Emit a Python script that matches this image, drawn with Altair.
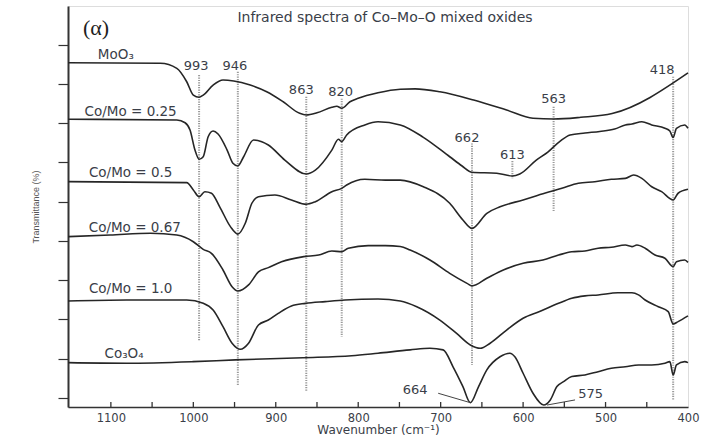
import altair as alt
import pandas as pd

# ---- spectra: wavenumber (cm^-1) and transmittance (offset, arbitrary units) ----
moo3_wn = [1152, 1040, 1020, 1008, 1000, 993, 988, 976, 964, 951, 931, 911, 891, 871, 863,
           850, 832, 826, 820, 810, 800, 776, 749, 731, 701, 660, 620, 588, 563, 530, 492, 400]
moo3_t = [17.08, 17.05, 16.79, 16.11, 15.43, 15.32, 15.43, 15.94, 16.20, 16.15, 15.94, 15.60,
          15.09, 14.50, 14.42, 14.53, 14.81, 14.86, 14.76, 15.09, 15.27, 15.55, 15.73, 15.75,
          15.60, 15.18, 14.67, 14.25, 14.21, 14.30, 14.49, 16.56]

co025_wn = [1152, 1020, 1010, 1004, 998, 993, 988, 982, 976, 970, 959, 952, 946, 939, 927, 917,
            909, 889, 863, 852, 832, 824, 820, 814, 792, 776, 749, 721, 689, 674, 662, 632, 613,
            604, 584, 570, 555, 543, 525, 507, 489, 476, 468, 456, 444, 428, 422, 418, 414, 404, 400]
co025_t = [14.20, 14.16, 14.02, 13.65, 12.63, 12.16, 12.29, 13.31, 13.60, 13.45, 12.63, 11.96,
           11.82, 12.29, 13.14, 13.06, 12.89, 12.12, 11.41, 11.61, 12.63, 13.18, 13.06, 13.40,
           13.91, 14.07, 13.91, 13.28, 12.29, 11.82, 11.50, 11.45, 11.31, 11.41, 12.12, 12.53,
           13.09, 13.40, 13.50, 13.58, 13.70, 13.91, 13.96, 14.07, 13.91, 13.74, 13.60, 13.27,
           13.74, 13.91, 13.74]

co05_wn = [1152, 1008, 1000, 993, 986, 978, 968, 955, 946, 937, 929, 921, 901, 881, 863, 852,
           832, 820, 814, 792, 767, 749, 721, 689, 673, 662, 644, 628, 600, 573, 553, 533, 513,
           493, 476, 466, 456, 444, 432, 418, 412, 400]
co05_t = [11.02, 10.97, 10.60, 10.25, 10.51, 10.43, 9.74, 8.73, 8.35, 8.90, 9.92, 10.25, 10.34,
          10.09, 9.87, 10.00, 10.51, 10.68, 10.85, 11.14, 11.10, 11.10, 10.76, 9.92, 9.07, 8.64,
          9.41, 9.74, 10.09, 10.44, 10.68, 10.94, 11.02, 11.14, 11.19, 11.36, 11.19, 10.76,
          10.51, 10.09, 10.43, 10.63]

co067_wn = [1152, 1101, 1052, 1020, 1000, 988, 978, 964, 953, 946, 933, 921, 909, 893, 866, 848,
            832, 820, 812, 788, 767, 749, 737, 713, 689, 668, 662, 644, 624, 600, 576, 557, 541,
            525, 509, 493, 476, 468, 462, 452, 440, 428, 418, 414, 404, 400]
co067_t = [8.22, 8.30, 8.39, 8.30, 7.96, 7.57, 7.37, 6.52, 5.67, 5.45, 5.76, 6.42, 6.64, 6.94,
           7.20, 7.28, 7.49, 7.45, 7.63, 7.76, 7.76, 7.72, 7.54, 7.03, 6.35, 5.84, 5.71, 6.10,
           6.52, 6.86, 7.03, 7.28, 7.45, 7.49, 7.63, 7.68, 7.79, 7.71, 7.79, 7.63, 7.28, 7.12,
           6.69, 6.94, 7.03, 6.91]

co10_wn = [1152, 1081, 1008, 988, 976, 964, 953, 943, 933, 921, 909, 897, 881, 864, 840, 816,
           776, 749, 729, 701, 681, 664, 652, 640, 620, 600, 580, 557, 541, 525, 509, 485, 468,
           460, 452, 436, 424, 418, 412, 400]
co10_t = [4.94, 4.99, 4.99, 4.82, 4.48, 3.63, 2.79, 2.48, 2.79, 3.72, 3.97, 4.31, 4.69, 4.82,
          4.91, 4.99, 5.04, 4.94, 4.65, 3.97, 3.30, 2.70, 2.53, 2.79, 3.46, 4.06, 4.40, 4.82,
          5.08, 5.20, 5.25, 5.36, 5.36, 5.25, 4.99, 4.65, 4.40, 3.77, 3.89, 4.18]

co3o4_wn = [1152, 1081, 1000, 949, 867, 808, 776, 737, 713, 697, 685, 673, 664, 654, 644, 628,
            616, 610, 600, 588, 575, 567, 559, 551, 541, 525, 509, 493, 476, 460, 444, 428, 422,
            418, 414, 404, 400]
co3o4_t = [1.80, 1.77, 1.85, 1.94, 2.05, 2.15, 2.28, 2.45, 2.53, 2.45, 1.59, 0.58, -0.24, 0.58,
           1.43, 2.10, 2.28, 2.10, 1.26, 0.24, -0.36, -0.10, 0.58, 0.83, 1.09, 1.17, 1.34, 1.51,
           1.59, 1.68, 1.68, 1.77, 1.85, 1.17, 1.68, 1.85, 1.80]

series_names = ["MoO₃", "Co/Mo = 0.25", "Co/Mo = 0.5", "Co/Mo = 0.67", "Co/Mo = 1.0", "Co₃O₄"]
series_wn = [moo3_wn, co025_wn, co05_wn, co067_wn, co10_wn, co3o4_wn]
series_t = [moo3_t, co025_t, co05_t, co067_t, co10_t, co3o4_t]

# label anchor for each spectrum name
name_wn = [1094, 1076, 1076, 1071, 1076, 1084]
name_t = [17.47, 14.57, 11.46, 8.66, 5.55, 2.24]

# marked band positions with their dotted guide extents
band_wn = [993, 946, 863, 820, 662, 613, 563, 418]
band_top = [16.45, 16.62, 15.35, 15.25, 12.97, 12.07, 14.84, 16.37]
band_bottom = [2.92, 0.61, 0.37, 3.12, 1.68, 11.19, 9.49, -0.10]
band_label_t = [16.91, 16.91, 15.69, 15.59, 13.24, 12.38, 15.23, 16.71]
band_label_dx = [-3, -3, -5, -1, -5, 0, 0, -11]   # label shift in pixels

x_ticks = [1100, 1000, 900, 800, 700, 600, 500, 400]
x_minor = [1100, 1050, 1000, 950, 900, 850, 800, 750, 700, 650, 600, 550, 500, 450]
y_ticks = list(range(20))

W, H = 620, 401
X_MIN, X_MAX = 400, 1152
UNITS_PER_PX = (X_MAX - X_MIN) / W
INK = "#262626"
TXT = "#3a3e48"

rows = []
for name, wn, t in zip(series_names, series_wn, series_t):
    for i, (a, b) in enumerate(zip(wn, t)):
        rows.append({"series": name, "idx": i, "wn": a, "t": b})
spectra = pd.DataFrame(rows)

names = pd.DataFrame({"label": series_names, "wn": name_wn, "t": name_t})
bands = pd.DataFrame({
    "wn": band_wn, "top": band_top, "bottom": band_bottom,
    "lt": band_label_t, "dx": band_label_dx, "label": [str(v) for v in band_wn],
})
minors = pd.DataFrame({"wn": x_minor})
single = pd.DataFrame({"k": [0]})

# Co3O4 band callouts with leader lines
callouts = pd.DataFrame({
    "label": ["664", "575"],
    "lx": [731, 518], "lt": [0.41, 0.20],
    "x1": [703, 537], "t1": [0.24, -0.10],
    "x2": [664, 571], "t2": [-0.24, -0.36],
})

xscale = alt.Scale(domain=[X_MIN, X_MAX], reverse=True, nice=False, zero=False)
yscale = alt.Scale(domain=[-0.46, 19.97], nice=False, zero=False)

xaxis = alt.Axis(
    values=x_ticks, format="d", tickSize=0, grid=False, labelFont="DejaVu Sans",
    labelFontSize=11.5, labelColor=TXT, labelPadding=5, labelFlush=False,
    domainColor="#333", domainWidth=1.6,
    title="Wavenumber (cm⁻¹)", titleFont="DejaVu Sans", titleFontSize=12,
    titleFontWeight="normal", titleColor=TXT, titlePadding=1,
)
yaxis = alt.Axis(
    values=y_ticks, labels=False, tickSize=10, tickColor="#333", tickWidth=1.2, grid=False,
    domainColor="#333", domainWidth=2, title="Transmittance (%)", titleFont="Liberation Sans",
    titleFontSize=9, titleFontWeight="normal", titleColor="#555", titlePadding=17,
)

curves = alt.Chart(spectra).mark_line(interpolate="monotone", color=INK, strokeWidth=1.6).encode(
    x=alt.X("wn:Q", scale=xscale, axis=xaxis),
    y=alt.Y("t:Q", scale=yscale, axis=yaxis),
    detail="series:N",
    order="idx:Q",
)

guides = alt.Chart(bands).mark_rule(color="#9a9a9a", strokeWidth=2, strokeDash=[1.2, 1.2]).encode(
    x="wn:Q", y="top:Q", y2="bottom:Q"
)

# reversed axis: a leftward pixel shift means a larger wavenumber
band_text = alt.Chart(bands).transform_calculate(
    lx=f"datum.wn - datum.dx * {UNITS_PER_PX}"
).mark_text(
    font="DejaVu Sans", fontSize=13, color=TXT, baseline="middle"
).encode(x="lx:Q", y="lt:Q", text="label:N")

name_text = alt.Chart(names).mark_text(
    font="DejaVu Sans", fontSize=13.5, color=TXT, baseline="middle"
).encode(x="wn:Q", y="t:Q", text="label:N")

inner_ticks = alt.Chart(minors).mark_rule(color="#333", strokeWidth=1.3).encode(
    x="wn:Q", y=alt.value(H), y2=alt.value(H - 5)
)

leaders = alt.Chart(callouts).mark_rule(color="#444", strokeWidth=1).encode(
    x="x1:Q", y="t1:Q", x2="x2:Q", y2="t2:Q"
)
callout_text = alt.Chart(callouts).mark_text(
    font="DejaVu Sans", fontSize=13, color=TXT, baseline="middle"
).encode(x="lx:Q", y="lt:Q", text="label:N")

title_text = alt.Chart(single).mark_text(
    font="DejaVu Sans", fontSize=14, color=TXT, baseline="middle"
).encode(
    x=alt.value(317), y=alt.value(12),
    text=alt.value("Infrared spectra of Co–Mo–O mixed oxides"),
)
panel_tag = alt.Chart(single).mark_text(
    font="Liberation Serif", fontSize=22, color="#1e1e1e", baseline="middle"
).encode(x=alt.value(28), y=alt.value(22), text=alt.value("(α)"))

chart = alt.layer(
    guides, curves, inner_ticks, leaders, band_text, name_text, callout_text,
    title_text, panel_tag,
).properties(
    width=W, height=H,
    autosize=alt.AutoSizeParams(type="none"),
    padding={"left": 68, "top": 6, "right": 27, "bottom": 31},
).configure_view(
    stroke="#8a8a8a", strokeWidth=1.5
).configure(background="white")

chart.save("out.html", embed_options={"renderer": "svg", "actions": False})
